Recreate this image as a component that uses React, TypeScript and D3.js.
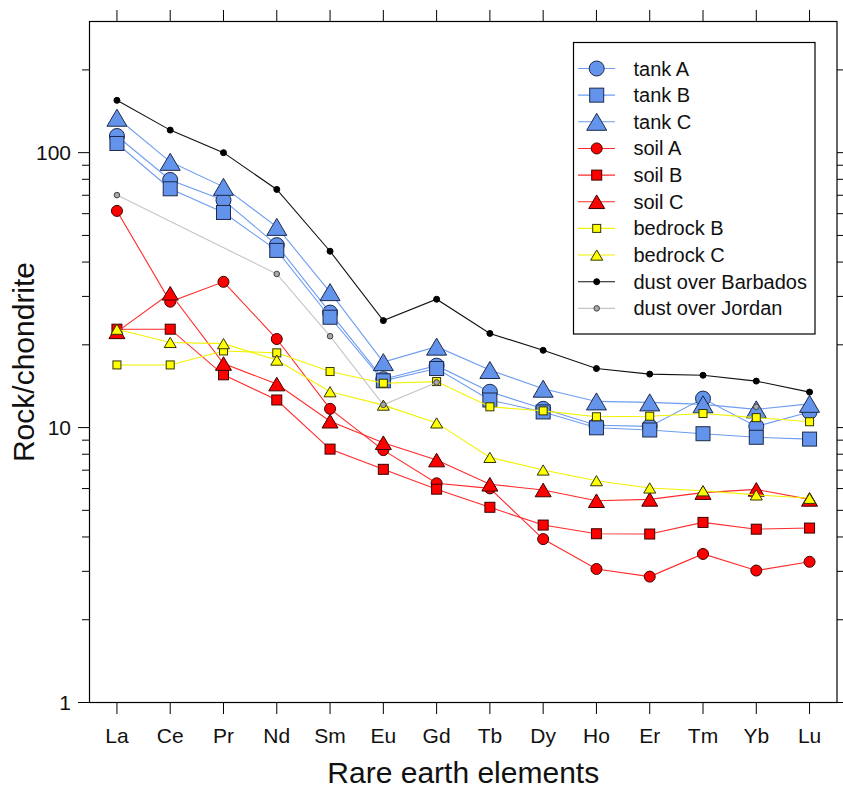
import React from "react";
import * as d3 from "d3";

const elements = ["La", "Ce", "Pr", "Nd", "Sm", "Eu", "Gd", "Tb", "Dy", "Ho", "Er", "Tm", "Yb", "Lu"];

const tankA = [115, 79.6, 67.2, 46.1, 26.2, 15.0, 16.8, 13.5, 11.7, 10.2, 10.1, 12.75, 10.1, 11.4];
const tankB = [108, 73.9, 60.6, 44.1, 25.2, 14.8, 16.4, 12.6, 11.4, 9.98, 9.8, 9.5, 9.22, 9.08];
const tankC = [134, 92.6, 75.1, 53.7, 31.1, 17.3, 19.7, 16.2, 13.85, 12.45, 12.35, 12.15, 11.65, 12.2];
const soilA = [61.4, 28.7, 33.9, 21.0, 11.7, 8.28, 6.27, 6.01, 3.93, 3.06, 2.87, 3.47, 3.02, 3.25];
const soilB = [22.8, 22.8, 15.56, 12.6, 8.35, 7.05, 5.97, 5.13, 4.42, 4.11, 4.1, 4.52, 4.27, 4.31];
const soilC = [22.3, 30.8, 17.1, 14.4, 10.55, 8.81, 7.62, 6.22, 5.93, 5.42, 5.48, 5.8, 5.96, 5.48];
const bedrockB = [16.9, 16.9, 19.0, 18.7, 15.99, 14.5, 14.7, 11.9, 11.5, 10.95, 11.0, 11.25, 10.87, 10.5];
const bedrockC = [22.8, 20.4, 20.2, 17.6, 13.5, 12.07, 10.4, 7.79, 7.01, 6.41, 6.03, 5.89, 5.69, 5.53];
const dustBarbados = [155, 120.8, 100, 73.5, 43.8, 24.5, 29.3, 22.0, 19.1, 16.4, 15.65, 15.5, 14.76, 13.46];
const dustJordan: (number | null)[] = [70.1, null, null, 36.2, 21.5, 12.1, 14.6, null, null, null, null, null, 11.9, null];

const yMajorTicks = [1, 10, 100];
const yTickLabels = ["1", "10", "100"];

type Shape = "circle" | "square" | "triangle" | "dot";
interface Series {
  name: string;
  values: (number | null)[];
  shape: Shape;
  size: number;
  fill: string;
  line: string;
  stroke: string;
  maxGap: number;
}

const BLUE = "#6393ea";
const BLUE_LINE = "#6d9cf0";
const RED = "#ff0000";
const RED_LINE = "#ff2a2a";
const YELLOW = "#ffff00";
const YELLOW_LINE = "#f2f200";

const series: Series[] = [
  { name: "tank A", values: tankA, shape: "circle", size: 7.5, fill: BLUE, line: BLUE_LINE, stroke: "#1d2a4a", maxGap: 99 },
  { name: "tank B", values: tankB, shape: "square", size: 7, fill: BLUE, line: BLUE_LINE, stroke: "#1d2a4a", maxGap: 99 },
  { name: "tank C", values: tankC, shape: "triangle", size: 10, fill: BLUE, line: BLUE_LINE, stroke: "#1d2a4a", maxGap: 99 },
  { name: "soil A", values: soilA, shape: "circle", size: 5.5, fill: RED, line: RED_LINE, stroke: "#3a0000", maxGap: 99 },
  { name: "soil B", values: soilB, shape: "square", size: 5, fill: RED, line: RED_LINE, stroke: "#3a0000", maxGap: 99 },
  { name: "soil C", values: soilC, shape: "triangle", size: 8, fill: RED, line: RED_LINE, stroke: "#3a0000", maxGap: 99 },
  { name: "bedrock B", values: bedrockB, shape: "square", size: 4, fill: YELLOW, line: YELLOW_LINE, stroke: "#333300", maxGap: 99 },
  { name: "bedrock C", values: bedrockC, shape: "triangle", size: 6, fill: YELLOW, line: YELLOW_LINE, stroke: "#333300", maxGap: 99 },
  { name: "dust over Barbados", values: dustBarbados, shape: "dot", size: 3, fill: "#000", line: "#111", stroke: "#000", maxGap: 99 },
  { name: "dust over Jordan", values: dustJordan, shape: "dot", size: 2.8, fill: "#a8a8a8", line: "#c4c4c4", stroke: "#444", maxGap: 4 },
];

const W = 843;
const H = 789;
const L = 89.5;
const R = 837;
const T = 21.5;
const B = 702.5;

function Marker({ shape, size, fill, stroke, x, y }: { shape: Shape; size: number; fill: string; stroke: string; x: number; y: number }) {
  if (shape === "circle" || shape === "dot") {
    return <circle cx={x} cy={y} r={size} fill={fill} stroke={stroke} strokeWidth={1} />;
  }
  if (shape === "square") {
    return <rect x={x - size} y={y - size} width={size * 2} height={size * 2} fill={fill} stroke={stroke} strokeWidth={1} />;
  }
  const hw = size;
  const hh = size * 0.85;
  const p = `M${x},${y - hh}L${x + hw},${y + hh}L${x - hw},${y + hh}Z`;
  return <path d={p} fill={fill} stroke={stroke} strokeWidth={1} strokeLinejoin="miter" />;
}

export default function App() {
  const x = d3.scalePoint<string>().domain(elements).range([L, R]).padding(0.515);
  const y = d3.scaleLog().domain([1, 300]).range([B, T]);

  const minorTicks: number[] = [];
  for (const dec of [1, 10, 100]) {
    for (let m = 2; m <= 9; m++) {
      const v = m * dec;
      if (v < 300) minorTicks.push(v);
    }
  }

  const lineGen = d3
    .line<[number, number]>()
    .x((d) => d[0])
    .y((d) => d[1]);

  function segments(s: Series): [number, number][][] {
    const segs: [number, number][][] = [];
    let cur: [number, number][] = [];
    let lastIdx = -100;
    s.values.forEach((v, i) => {
      if (v == null) return;
      if (cur.length && i - lastIdx > s.maxGap) {
        segs.push(cur);
        cur = [];
      }
      cur.push([x(elements[i])!, y(v)]);
      lastIdx = i;
    });
    if (cur.length) segs.push(cur);
    return segs;
  }

  const font = "Arial, 'Liberation Sans', sans-serif";
  const legX = 573.5;
  const legY = 42.5;
  const legW = 241.5;
  const legH = 291.5;
  const rowY0 = 68.5;
  const rowDy = 26.65;

  return (
    <svg width={W} height={H} style={{ position: "absolute", left: 0, top: 0 }} fontFamily={font}>
      <rect x={0} y={0} width={W} height={H} fill="#fff" />
      {series.map((s) => (
        <g key={s.name}>
          {segments(s).map((seg, k) =>
            seg.length > 1 ? <path key={k} d={lineGen(seg) || ""} fill="none" stroke={s.line} strokeWidth={1.1} /> : null
          )}
          {s.values.map((v, i) =>
            v == null ? null : (
              <Marker key={i} shape={s.shape} size={s.size} fill={s.fill} stroke={s.stroke} x={x(elements[i])!} y={y(v)} />
            )
          )}
        </g>
      ))}
      <rect x={L} y={T} width={R - L} height={B - T} fill="none" stroke="#000" strokeWidth={1.2} />
      {elements.map((e) => (
        <g key={e}>
          <line x1={x(e)} x2={x(e)} y1={B} y2={B + 11.5} stroke="#000" />
          <line x1={x(e)} x2={x(e)} y1={T} y2={T - 11.5} stroke="#000" />
          <text x={x(e)} y={742.5} textAnchor="middle" fontSize={21} fill="#111">
            {e}
          </text>
        </g>
      ))}
      {yMajorTicks.map((t, i) => (
        <g key={t}>
          <line x1={L} x2={L - 11.5} y1={y(t)} y2={y(t)} stroke="#000" />
          <line x1={R} x2={R + 11.5} y1={y(t)} y2={y(t)} stroke="#000" />
          <text x={71} y={y(t)} dy="0.35em" textAnchor="end" fontSize={21} fill="#111">
            {yTickLabels[i]}
          </text>
        </g>
      ))}
      {minorTicks.map((t) => (
        <g key={t}>
          <line x1={L} x2={L - 7.5} y1={y(t)} y2={y(t)} stroke="#000" />
          <line x1={R} x2={R + 7.5} y1={y(t)} y2={y(t)} stroke="#000" />
        </g>
      ))}
      <text x={(L + R) / 2} y={783} textAnchor="middle" fontSize={30} fill="#111">
        Rare earth elements
      </text>
      <text transform={`translate(34, ${(T + B) / 2}) rotate(-90)`} textAnchor="middle" fontSize={30} fill="#111">
        Rock/chondrite
      </text>
      <rect x={legX} y={legY} width={legW} height={legH} fill="#fff" stroke="#000" strokeWidth={1.2} />
      {series.map((s, i) => {
        const cy = rowY0 + i * rowDy;
        return (
          <g key={s.name}>
            <line x1={578} x2={615} y1={cy} y2={cy} stroke={s.line} strokeWidth={1.1} />
            <Marker shape={s.shape} size={s.size} fill={s.fill} stroke={s.stroke} x={596.7} y={cy} />
            <text x={633.5} y={cy} dy="0.35em" fontSize={20} fill="#111">
              {s.name}
            </text>
          </g>
        );
      })}
    </svg>
  );
}
